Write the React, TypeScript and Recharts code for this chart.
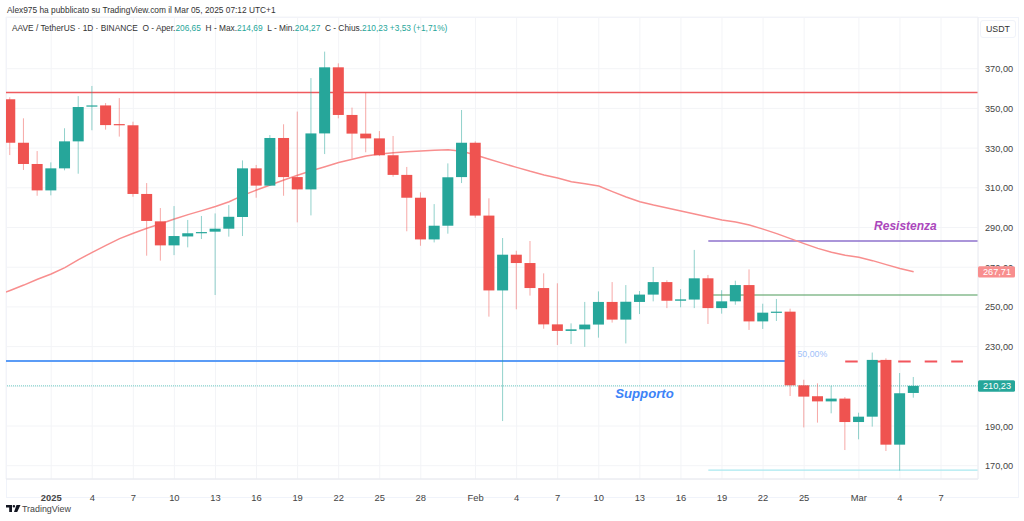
import React from 'react';
import {
  ComposedChart, Bar, Line, XAxis, YAxis, CartesianGrid, ReferenceLine, ReferenceDot,
} from 'recharts';

// Each row: open, high, low, close (one per day from Dec 29)
const opens = [354.6,332.7,322.0,308.7,319.8,333.4,350.9,351.5,342.1,341.5,306.9,293.1,281.0,285.5,287.1,287.9,289.4,295.3,319.8,311.1,335.1,315.4,309.2,337.4,370.7,346.7,337.3,334.9,326.4,316.5,305.0,284.0,290.9,315.4,332.7,296.0,258.3,276.3,272.1,259.5,241.2,237.9,238.7,241.1,252.5,243.6,252.5,256.2,262.5,253.1,253.7,264.4,249.4,252.8,261.0,242.7,247.1,247.6,210.5,205.0,202.4,203.8,192.0,194.7,223.3,180.6,206.65];
const highs = [355.6,345.0,328.5,322.8,340.0,356.2,361.3,352.7,355.2,343.3,312.4,299.8,300.8,293.8,295.8,297.1,301.3,323.8,321.5,336.6,342.0,348.4,365.3,378.6,372.7,350.4,357.9,338.6,336.1,320.5,307.7,301.8,322.3,349.2,333.4,304.7,284.7,278.3,283.2,266.9,261.9,241.7,252.5,257.8,262.5,261.0,258.0,270.1,263.4,259.0,278.7,266.1,258.4,263.2,268.9,251.6,254.0,249.1,213.3,211.5,210.3,204.6,196.7,227.0,224.1,216.7,214.69];
const lows = [326.5,319.0,306.0,306.2,318.8,317.1,339.0,339.3,335.8,305.5,275.8,273.3,276.1,280.0,284.2,256.0,285.4,285.7,305.0,310.9,306.0,292.6,296.1,327.0,345.0,324.8,327.9,326.0,315.6,288.1,280.8,282.5,286.9,312.4,294.9,245.1,192.5,248.8,255.7,239.0,230.8,231.3,229.9,234.5,242.1,231.6,246.4,252.8,249.4,249.8,249.4,241.4,246.6,251.1,238.4,238.9,242.9,205.1,189.3,191.7,196.4,177.9,183.3,189.7,177.4,167.5,204.27];
const closes = [332.7,322.0,308.7,319.8,333.4,350.7,351.5,341.6,341.6,306.9,293.3,281.0,285.7,287.1,287.7,289.4,295.4,319.8,311.1,335.1,315.4,309.2,337.4,370.7,346.7,337.3,334.9,326.4,316.5,305.0,284.0,290.9,315.3,332.7,296.0,258.3,276.3,272.1,259.5,241.2,237.9,238.7,241.1,252.5,243.6,252.6,256.2,262.5,253.1,253.8,264.4,249.4,252.8,261.0,242.7,247.1,247.6,210.5,204.8,202.4,203.8,192.0,194.7,223.3,180.6,206.5,210.23];
const movingAverage = [258.3,261.0,263.9,266.6,269.8,273.8,277.5,281.0,284.4,287.1,289.6,291.9,294.3,296.5,298.5,300.6,303.0,306.2,308.9,311.4,313.9,316.3,318.6,320.6,322.7,324.4,326.0,327.0,327.7,328.2,328.5,328.9,329.2,328.4,326.5,324.4,322.3,320.3,318.3,316.5,314.9,313.1,312.1,310.9,308.1,305.4,303.0,301.3,299.8,298.3,296.8,295.3,293.8,292.8,291.3,289.2,286.9,284.4,281.9,279.5,277.5,276.0,275.0,273.3,271.3,269.3,267.71];
const maBeforeFirstDay = 255.6;

const xTickDays = [3,6,9,12,15,18,21,24,27,30,34,37,40,43,46,49,52,55,58,62,65,68];
const xTickLabels = ['2025','4','7','10','13','16','19','22','25','28','Feb','4','7','10','13','16','19','22','25','Mar','4','7'];
const yTicks = [170,190,210,230,250,270,290,310,330,350,370];
const X_DOMAIN: [number, number] = [-0.3, 70.7];
const Y_DOMAIN: [number, number] = [163.3, 396.05];

const GREEN = '#26a69a';
const RED = '#ef5350';
const SANS = '"Liberation Sans", Arial, sans-serif';

const rows: any[] = [
  { day: -1, ma: maBeforeFirstDay },
  ...opens.map((o, i) => ({ day: i, open: o, high: highs[i], low: lows[i], close: closes[i], ma: movingAverage[i] })),
];

const Candle = (props: any) => {
  const { x, y, width, height, payload } = props;
  if (!payload || payload.high == null) return null;
  const perUnit = height / (payload.high - payload.low);
  const up = payload.close >= payload.open;
  const color = up ? GREEN : RED;
  const cx = x + width / 2;
  const top = y + (payload.high - Math.max(payload.open, payload.close)) * perUnit;
  const bodyH = Math.max(Math.abs(payload.close - payload.open) * perUnit, 1.2);
  return (
    <g>
      <line x1={cx} x2={cx} y1={y} y2={y + height} stroke={color} strokeOpacity={0.5} strokeWidth={1} />
      <rect x={cx - 5.5} y={top} width={11} height={bodyH} fill={color} />
    </g>
  );
};

const XTick = (props: any) => {
  const { x, y, payload } = props;
  const i = xTickDays.indexOf(payload.value);
  const label = xTickLabels[i];
  return (
    <text x={x} y={y + 14} textAnchor="middle" fontFamily={SANS} fontSize={9.4}
      fontWeight={label === '2025' ? 700 : 400} fill="#444">{label}</text>
  );
};

const YTick = (props: any) => {
  const { y, payload } = props;
  if (payload.value === 210) return null; // fully covered by the last-price tag in the reference
  return (
    <text x={985} y={y + 3.5} fontFamily={SANS} fontSize={9.2} fill="#444">
      {payload.value.toFixed(2).replace('.', ',')}
    </text>
  );
};

const Note = (props: any) => {
  const { cx, cy, text, ink, size, weight, italic } = props;
  return (
    <text x={cx} y={cy} textAnchor="middle" dominantBaseline="central" fontFamily={SANS}
      fontSize={size} fontWeight={weight} fontStyle={italic ? 'italic' : 'normal'} fill={ink}>{text}</text>
  );
};

const PriceTag = (props: any) => {
  const { cy, text, ink } = props;
  return (
    <g>
      <rect x={978} y={cy - 5.6} width={37} height={11.4} rx={1.5} fill={ink} />
      <text x={997} y={cy + 3.4} textAnchor="middle" fontFamily={SANS} fontSize={9.2} fill="#fff">{text}</text>
    </g>
  );
};

const Num = ({ children }: any) => <span style={{ color: GREEN }}>{children}</span>;

const layer: React.CSSProperties = { position: 'absolute', left: 0, top: 0 };

export default function App() {
  return (
    <div style={{ position: 'absolute', left: 0, top: 0, width: 1024, height: 521, background: '#fff', overflow: 'hidden', fontFamily: SANS }}>
      <div style={{ position: 'absolute', left: 7, top: 5, fontSize: 8.35, color: '#333', whiteSpace: 'nowrap' }}>
        Alex975 ha pubblicato su TradingView.com il Mar 05, 2025 07:12 UTC+1
      </div>
      <div style={{ position: 'absolute', left: 6, top: 17, width: 1011, height: 479, border: '1px solid #f0f3fa' }} />

      {/* Lower layer: grid, axes, drawn levels and the moving average */}
      <ComposedChart width={1024} height={521} data={rows} margin={{ top: 17, right: 6, bottom: 24, left: 6 }} style={layer}>
        <CartesianGrid stroke="#f3f4f7" strokeWidth={1} />
        <XAxis dataKey="day" type="number" domain={X_DOMAIN} allowDataOverflow ticks={xTickDays} interval={0}
          height={18} tick={<XTick />} tickLine={false} axisLine={{ stroke: '#e6e8ee' }} />
        <YAxis orientation="right" type="number" domain={Y_DOMAIN} allowDataOverflow ticks={yTicks} interval={0}
          width={40} tick={<YTick />} tickLine={false} axisLine={{ stroke: '#eceef3' }} />

        <ReferenceLine y={358} stroke="#ef5a5e" strokeWidth={1.6} />
        <ReferenceLine segment={[{ x: -0.3, y: 222.8 }, { x: 57, y: 222.8 }]} stroke="#5b9cf6" strokeWidth={2} />
        <ReferenceLine y={210.23} stroke="#6fcdc4" strokeDasharray="1 1" />
        <ReferenceLine segment={[{ x: 51, y: 283.2 }, { x: 70.7, y: 283.2 }]} stroke="#8e72cc" strokeWidth={1.5} />
        <ReferenceLine segment={[{ x: 51, y: 256 }, { x: 70.7, y: 256 }]} stroke="#4c9a58" strokeWidth={1.2} />
        <ReferenceLine segment={[{ x: 51, y: 167.8 }, { x: 70.7, y: 167.8 }]} stroke="#a9e8ef" strokeWidth={1.2} />
        <ReferenceLine segment={[{ x: 61, y: 222.5 }, { x: 69.6, y: 222.5 }]} stroke="#f2555c" strokeWidth={2} strokeDasharray="12.5 14" />

        <Line dataKey="ma" stroke="#f88e8e" strokeWidth={1.5} dot={false} activeDot={false} isAnimationActive={false} connectNulls />
      </ComposedChart>

      {/* Upper layer: candles, notes and price tags sit above the levels and axis text */}
      <ComposedChart width={1024} height={521} data={rows} margin={{ top: 17, right: 46, bottom: 42, left: 6 }} style={layer}>
        <XAxis hide dataKey="day" type="number" domain={X_DOMAIN} allowDataOverflow ticks={xTickDays} interval={0} />
        <YAxis hide type="number" domain={Y_DOMAIN} allowDataOverflow ticks={yTicks} interval={0} />
        <Bar dataKey={(d: any) => (d.high == null ? undefined : [d.low, d.high])} barSize={11} shape={<Candle />} isAnimationActive={false} />

        <ReferenceDot x={65.4} y={290.8} r={0} shape={<Note text="Resistenza" ink="#ab47bc" size={12} weight={700} italic />} ifOverflow="visible" />
        <ReferenceDot x={46.34} y={206.3} r={0} shape={<Note text="Supporto" ink="#3d83f7" size={13.2} weight={700} italic />} ifOverflow="visible" />
        <ReferenceDot x={58.6} y={226.2} r={0} shape={<Note text="50,00%" ink="#9fc1f9" size={8.8} weight={400} />} ifOverflow="visible" />
        <ReferenceDot x={70.7} y={267.71} r={0} shape={<PriceTag text="267,71" ink="#f88e8e" />} ifOverflow="visible" />
        <ReferenceDot x={70.7} y={210.23} r={0} shape={<PriceTag text="210,23" ink={GREEN} />} ifOverflow="visible" />
      </ComposedChart>

      <div style={{ position: 'absolute', left: 980, top: 20, width: 34, height: 16, border: '1px solid #f0f3fa', borderRadius: 3, background: '#fff', textAlign: 'center', fontSize: 8.8, lineHeight: '16px', color: '#333' }}>USDT</div>
      <div style={{ position: 'absolute', left: 12, top: 23, fontSize: 8.35, color: '#333', whiteSpace: 'pre' }}>
        AAVE / TetherUS · 1D · BINANCE  O - Aper.<Num>206,65</Num>  H - Max.<Num>214,69</Num>  L - Min.<Num>204,27</Num>  C - Chius.<Num>210,23 +3,53 (+1,71%)</Num>
      </div>
      <svg style={{ position: 'absolute', left: 6, top: 504 }} width={15} height={10} viewBox="0 0 15 10">
        <path d="M0 1H6V8H3.2V3.5H0Z M6.6 2.2 A1.3 1.3 0 1 0 9.2 2.2 A1.3 1.3 0 1 0 6.6 2.2 Z M10.5 1H14.5L11.2 8H8Z" fill="#131722" />
      </svg>
      <div style={{ position: 'absolute', left: 22, top: 504, fontSize: 8.9, color: '#444' }}>TradingView</div>
    </div>
  );
}
